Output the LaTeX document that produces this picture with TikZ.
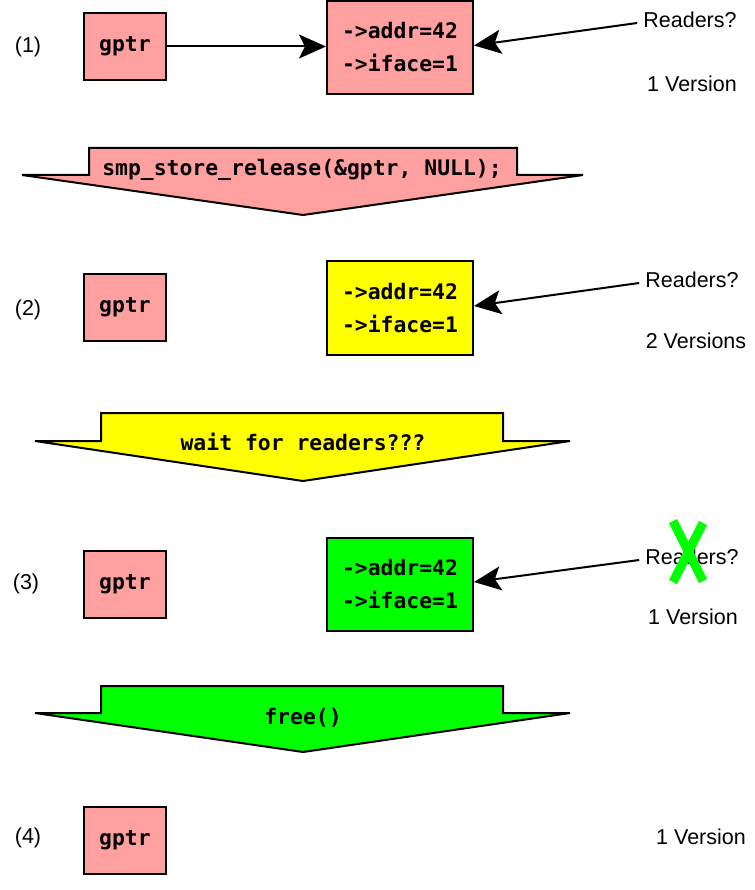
\documentclass[tikz,border=0pt]{standalone}
\usepackage{fontspec}
\setmainfont{Liberation Sans}
\newfontfamily\codefont{DejaVu Sans Mono}
\usetikzlibrary{arrows.meta,calc}
\definecolor{pinkc}{RGB}{255,160,160}
\definecolor{yelc}{RGB}{255,255,0}
\definecolor{grnc}{RGB}{0,255,0}
\begin{document}
\begin{tikzpicture}[x=1pt,y=-1pt,
  box/.style={draw=black,line width=2pt,inner sep=0pt,font=\codefont\bfseries\fontsize{21.4}{33}\selectfont,align=center},
  ptrbox/.style={box,fill=pinkc,minimum width=82pt,minimum height=67pt},
  databox/.style={box,minimum width=146pt,minimum height=93pt},
  lbl/.style={font=\fontsize{21.5}{24}\selectfont,inner sep=0pt},
  conn/.style={line width=2pt,-{Stealth[length=27pt,width=24pt,inset=6pt]}},
  bigarrow/.style={draw=black,line width=2pt,line join=miter},
  code/.style={font=\codefont\bfseries\fontsize{21.4}{24}\selectfont,inner sep=0pt}]
\useasboundingbox (0,0) rectangle (754,890);

% Row 1
\node[lbl] (n1) at (28,47) {(1)};
\node[ptrbox] (g1) at (125,46.5) {gptr};
\node[databox,fill=pinkc] (a1) at (400,47.5) {->addr=42\\->iface=1};
\node[lbl] (r1) at (690,20) {Readers?};
\node[lbl] (v1) at (692,84) {1 Version};
\draw[conn] (g1.east) -- (g1.east -| a1.west);
\coordinate (r1s) at ($(r1.west)+(-6,3)$);
\draw[conn] (r1s) -- ($(a1.east)+(0,-2)$);

% Arrow 1
\draw[bigarrow,fill=pinkc] (89,148) -- (517,148) -- (517,175) -- (583,175) -- (303,215) -- (22,175) -- (89,175) -- cycle;
\node[code] (t1) at (302,170) {smp\_store\_release(\&gptr, NULL);};

% Row 2
\node[lbl] (n2) at (28,310) {(2)};
\node[ptrbox] (g2) at (125,307) {gptr};
\node[databox,fill=yelc] (a2) at (400,308) {->addr=42\\->iface=1};
\node[lbl] (r2) at (692,280) {Readers?};
\node[lbl] (v2) at (696,341) {2 Versions};
\coordinate (r2s) at ($(r2.west)+(-6,3)$);
\draw[conn] (r2s) -- ($(a2.east)+(0,-2)$);

% Arrow 2
\draw[bigarrow,fill=yelc] (101,413) -- (503,413) -- (503,441) -- (570,441) -- (303,481) -- (35,441) -- (101,441) -- cycle;
\node[code] (t2) at (303,442) {wait for readers???};

% Row 3
\node[lbl] (n3) at (26,584) {(3)};
\node[ptrbox] (g3) at (125,584) {gptr};
\node[databox,fill=grnc] (a3) at (400,584) {->addr=42\\->iface=1};
\node[lbl] (r3) at (692,557) {Readers?};
\node[lbl] (v3) at (693,617) {1 Version};
\coordinate (r3s) at ($(r3.west)+(-6,3)$);
\draw[conn] (r3s) -- ($(a3.east)+(0,-2)$);
\draw[grnc,line width=9pt] (673,521) -- (703,581);
\draw[grnc,line width=9pt] (703,523) -- (673,582);

% Arrow 3
\draw[bigarrow,fill=grnc] (101,686) -- (503,686) -- (503,713) -- (570,713) -- (303,752) -- (35,713) -- (101,713) -- cycle;
\node[code] (t3) at (303,718) {free()};

% Row 4
\node[lbl] (n4) at (28,838) {(4)};
\node[ptrbox] (g4) at (125,840) {gptr};
\node[lbl] (v4) at (701,837) {1 Version};
\end{tikzpicture}
\end{document}
